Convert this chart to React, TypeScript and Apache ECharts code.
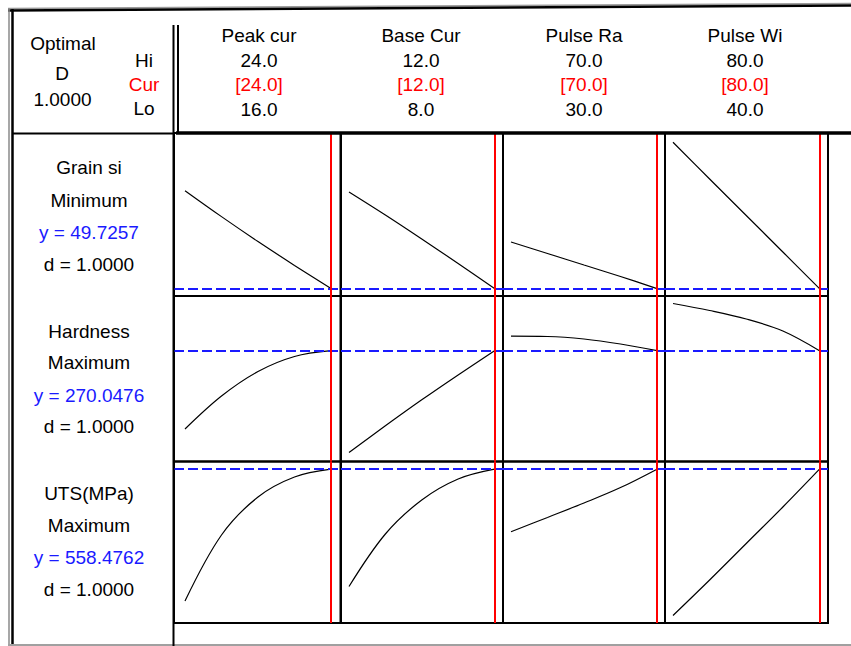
import React, { useEffect, useRef } from "react";
import * as echarts from "echarts";

// ---- data ----
const factorNames = ["Peak cur", "Base Cur", "Pulse Ra", "Pulse Wi"];
const factorHi = [24, 12, 70, 80];
const factorCur = [24, 12, 70, 80];
const factorLo = [16, 8, 30, 40];
// factor settings at which the response curves are read
const factorSettings = [
  [16, 18, 20, 22, 24],
  [8, 9, 10, 11, 12],
  [30, 40, 50, 60, 70],
  [40, 50, 60, 70, 80],
];

const responseNames = ["Grain si", "Hardness", "UTS(MPa)"];
const responseGoals = ["Minimum", "Maximum", "Maximum"];
const predictedY = [49.7257, 270.0476, 558.4762];
const desirability = [1.0, 1.0, 1.0];
const overallD = 1.0;

// response curves (one list per factor)
const grainCurves = [
  [68.6, 63.6, 58.8, 54.2, 49.7257],
  [68.35, 63.91, 59.29, 54.57, 49.7257],
  [58.71, 56.49, 54.28, 52.06, 49.7257],
  [77.93, 70.85, 63.82, 56.78, 49.7257],
];
const hardnessCurves = [
  [241.75, 253.67, 262.53, 267.95, 270.0476],
  [233.25, 242.9, 252.3, 261.3, 270.0476],
  [275.29, 275.18, 274.28, 272.47, 270.0476],
  [287.11, 284.58, 281.51, 277.17, 270.0476],
];
const utsCurves = [
  [456.94, 507.78, 537.04, 552.45, 558.4762],
  [468.11, 508.55, 534.73, 550.9, 558.4762],
  [510.32, 521.3, 532.42, 544.3, 558.4762],
  [445.78, 473.12, 501.23, 529.34, 558.4762],
];
const responseAxisMin = [48.3, 230, 440];
const responseAxisMax = [79.72, 289.82, 564.38];

// ---- layout ----
const colLeft = [174, 341, 503, 665];
const colRight = [340.5, 503, 665, 828];
const loPx = [185, 349, 511, 673];
const hiPx = [331, 494.5, 657, 819.5];
const rowTop = [133, 296, 461.5];
const rowBottom = [296, 461.5, 623];
const headerColX = [259, 421, 584, 745];
const headerRowY = [35, 60, 84.5, 109];
const labelX = 89;
const labelRowY = [
  [167.5, 200, 232.5, 264],
  [331.3, 362.5, 395, 426.3],
  [493.7, 525.3, 557.5, 589],
];

const FONT = '19px "Liberation Sans", Arial, sans-serif';
const BLACK = "#000000";
const RED = "#ff0000";
const BLUE = "#1a1aff";

export default function App() {
  const ref = useRef<HTMLDivElement>(null);

  useEffect(() => {
    if (!ref.current) return;
    const chart = echarts.init(ref.current, null, { renderer: "svg" });
    const allCurves = [grainCurves, hardnessCurves, utsCurves];

    const grids: any[] = [];
    const xAxes: any[] = [];
    const yAxes: any[] = [];
    const series: any[] = [];
    let idx = 0;
    for (let r = 0; r < 3; r++) {
      for (let c = 0; c < 4; c++) {
        const span = factorHi[c] - factorLo[c];
        const upp = span / (hiPx[c] - loPx[c]);
        grids.push({
          left: colLeft[c],
          top: rowTop[r],
          width: colRight[c] - colLeft[c],
          height: rowBottom[r] - rowTop[r],
          show: true,
          backgroundColor: "transparent",
          borderColor: BLACK,
          borderWidth: 2,
          containLabel: false,
        });
        xAxes.push({
          type: "value",
          gridIndex: idx,
          min: factorLo[c] - (loPx[c] - colLeft[c]) * upp,
          max: factorHi[c] + (colRight[c] - hiPx[c]) * upp,
          show: false,
        });
        yAxes.push({
          type: "value",
          gridIndex: idx,
          min: responseAxisMin[r],
          max: responseAxisMax[r],
          show: false,
        });
        series.push({
          type: "line",
          xAxisIndex: idx,
          yAxisIndex: idx,
          data: factorSettings[c].map((x, i) => [x, allCurves[r][c][i]]),
          smooth: 0.35,
          symbol: "none",
          silent: true,
          lineStyle: { color: BLACK, width: 1.2 },
          z: 3,
          markLine: {
            silent: true,
            symbol: "none",
            label: { show: false },
            animation: false,
            data: [
              {
                yAxis: predictedY[r],
                lineStyle: { color: BLUE, type: [10, 4], width: 2 },
              },
              {
                xAxis: factorCur[c],
                lineStyle: { color: RED, type: "solid", width: 2 },
              },
            ],
          },
        });
        idx++;
      }
    }

    const graphic: any[] = [];
    const txt = (text: string, x: number, y: number, fill = BLACK) => ({
      type: "text",
      x,
      y,
      silent: true,
      z: 10,
      style: { text, x: 0, y: 0, fill, font: FONT, align: "center", verticalAlign: "middle" },
    });
    const ln = (x1: number, y1: number, x2: number, y2: number, w: number, color = BLACK) => ({
      type: "line",
      silent: true,
      z: 9,
      shape: { x1, y1, x2, y2 },
      style: { stroke: color, lineWidth: w },
    });

    // frame
    graphic.push(ln(8, 8.5, 851, 3.5, 1.5, "#9a9a9a"));
    graphic.push(ln(8, 10.5, 851, 5.5, 2.5));
    graphic.push(ln(9, 8, 9, 646, 1.5, "#8a8a8a"));
    graphic.push(ln(12.5, 9, 12.5, 646, 2.5));
    graphic.push(ln(8, 645, 851, 645, 2, "#a0a0a0"));
    // header separators
    graphic.push(ln(12, 133.5, 174, 133.5, 2));
    graphic.push(ln(176, 133, 851, 133, 3.5));
    graphic.push(ln(173.5, 25, 173.5, 646, 2));
    graphic.push(ln(178, 25, 178, 133, 2));

    // header left
    graphic.push(txt("Optimal", 63, 43.7));
    graphic.push(txt("D", 62, 73.8));
    graphic.push(txt(overallD.toFixed(4), 62.5, 99.2));
    graphic.push(txt("Hi", 144, 60));
    graphic.push(txt("Cur", 144, 84.7, RED));
    graphic.push(txt("Lo", 144, 108));

    // factor headers
    for (let c = 0; c < 4; c++) {
      graphic.push(txt(factorNames[c], headerColX[c], headerRowY[0]));
      graphic.push(txt(factorHi[c].toFixed(1), headerColX[c], headerRowY[1]));
      graphic.push(txt("[" + factorCur[c].toFixed(1) + "]", headerColX[c], headerRowY[2], RED));
      graphic.push(txt(factorLo[c].toFixed(1), headerColX[c], headerRowY[3]));
    }

    // response labels
    for (let r = 0; r < 3; r++) {
      graphic.push(txt(responseNames[r], labelX, labelRowY[r][0]));
      graphic.push(txt(responseGoals[r], labelX, labelRowY[r][1]));
      graphic.push(txt("y = " + predictedY[r].toFixed(4), labelX, labelRowY[r][2], BLUE));
      graphic.push(txt("d = " + desirability[r].toFixed(4), labelX, labelRowY[r][3]));
    }

    chart.setOption({
      animation: false,
      backgroundColor: "#ffffff",
      grid: grids,
      xAxis: xAxes,
      yAxis: yAxes,
      series,
      graphic,
    });
    return () => chart.dispose();
  }, []);

  return (
    <div
      ref={ref}
      style={{ position: "absolute", left: 0, top: 0, width: 851, height: 646, background: "#fff" }}
    />
  );
}
